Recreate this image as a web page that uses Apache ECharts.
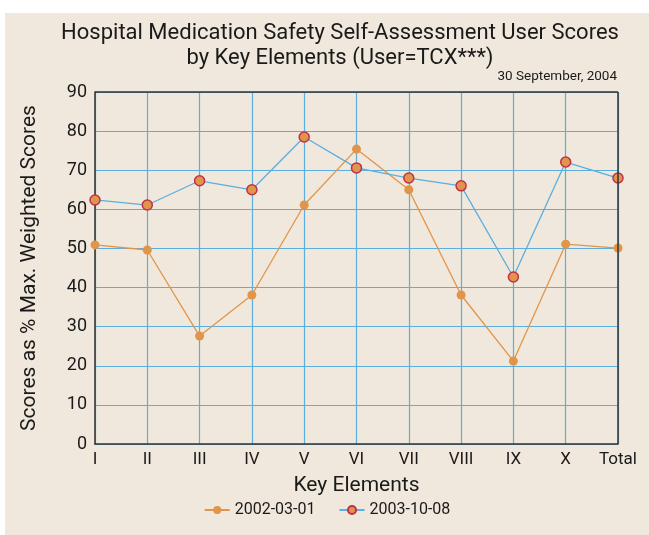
<!DOCTYPE html>
<html>
<head>
<meta charset="utf-8">
<script src="https://cdn.jsdelivr.net/npm/echarts@6/dist/echarts.min.js"></script>
<style>
  html, body { margin: 0; padding: 0; background: #ffffff; overflow: hidden; }
  #chart { position: absolute; left: 5px; top: 13px; width: 644px; height: 522px; background: #f0e8dc; }
</style>
</head>
<body>
<div id="chart"></div>
<script>
// categories + values
var categories = ["I", "II", "III", "IV", "V", "VI", "VII", "VIII", "IX", "X", "Total"];
var scores2002 = [50.9, 49.6, 27.6, 38.1, 61.1, 75.4, 65.0, 38.1, 21.2, 51.1, 50.1];
var scores2003 = [62.4, 61.1, 67.3, 65.0, 78.5, 70.6, 68.0, 66.0, 42.7, 72.1, 68.0];
var yTicks = [0, 10, 20, 30, 40, 50, 60, 70, 80, 90];

var font = "Roboto, 'DejaVu Sans', sans-serif";
var chart = echarts.init(document.getElementById("chart"));

var option = {
  backgroundColor: "#f0e8dc",
  animation: false,
  textStyle: { fontFamily: font },
  title: [
    {
      text: "Hospital Medication Safety Self-Assessment User Scores\nby Key Elements (User=TCX***)",
      left: 335, top: 8, padding: 0, textAlign: "center",
      textStyle: { fontSize: 22, fontWeight: "normal", color: "#1a1a1a", lineHeight: 25, fontFamily: font }
    },
    {
      text: "30 September, 2004",
      right: 32, top: 57, padding: 0,
      textStyle: { fontSize: 13.5, fontWeight: "normal", color: "#1a1a1a", fontFamily: font }
    }
  ],
  legend: {
    bottom: 12, left: "center",
    itemWidth: 25, itemHeight: 10, itemGap: 23,
    textStyle: { fontSize: 16, color: "#1a1a1a", fontFamily: font },
    data: ["2002-03-01", "2003-10-08"]
  },
  grid: { left: 90, right: 31, top: 79, bottom: 91 },
  xAxis: {
    type: "category",
    data: categories,
    boundaryGap: false,
    name: "Key Elements",
    nameLocation: "middle",
    nameGap: 31,
    nameTextStyle: { fontSize: 21, color: "#1a1a1a" },
    axisLine: { lineStyle: { color: "#333333", width: 1.5 } },
    axisTick: { show: false },
    axisLabel: { fontSize: 17, color: "#1a1a1a", margin: 7 },
    splitLine: { show: true, lineStyle: { color: "#5aaee0", width: 1.2 } }
  },
  yAxis: {
    type: "value",
    min: yTicks[0], max: yTicks[yTicks.length - 1], interval: 10,
    name: "Scores as % Max. Weighted Scores",
    nameLocation: "middle",
    nameGap: 55,
    nameTextStyle: { fontSize: 21, color: "#1a1a1a" },
    axisLine: { show: true, lineStyle: { color: "#333333", width: 1.5 } },
    axisTick: { show: false },
    axisLabel: { fontSize: 18, color: "#1a1a1a", margin: 8 },
    splitLine: { show: true, lineStyle: { color: "#5aaee0", width: 1.2 } }
  },
  series: [
    {
      name: "2002-03-01",
      type: "line",
      data: scores2002,
      symbol: "circle",
      symbolSize: 9,
      lineStyle: { color: "#e0954a", width: 1.3 },
      itemStyle: { color: "#e0954a", borderWidth: 0 }
    },
    {
      name: "2003-10-08",
      type: "line",
      data: scores2003,
      symbol: "circle",
      symbolSize: 10,
      lineStyle: { color: "#5aaee0", width: 1.3 },
      itemStyle: { color: "#e0954a", borderColor: "#c0304a", borderWidth: 1.5 },
      markLine: {
        silent: true, symbol: "none", label: { show: false },
        lineStyle: { color: "#333333", width: 1.5, type: "solid" },
        data: [{ yAxis: yTicks[yTicks.length - 1] }, { xAxis: categories.length - 1 }]
      }
    }
  ]
};

chart.setOption(option);
window.addEventListener("resize", function () { chart.resize(); });
</script>
</body>
</html>
